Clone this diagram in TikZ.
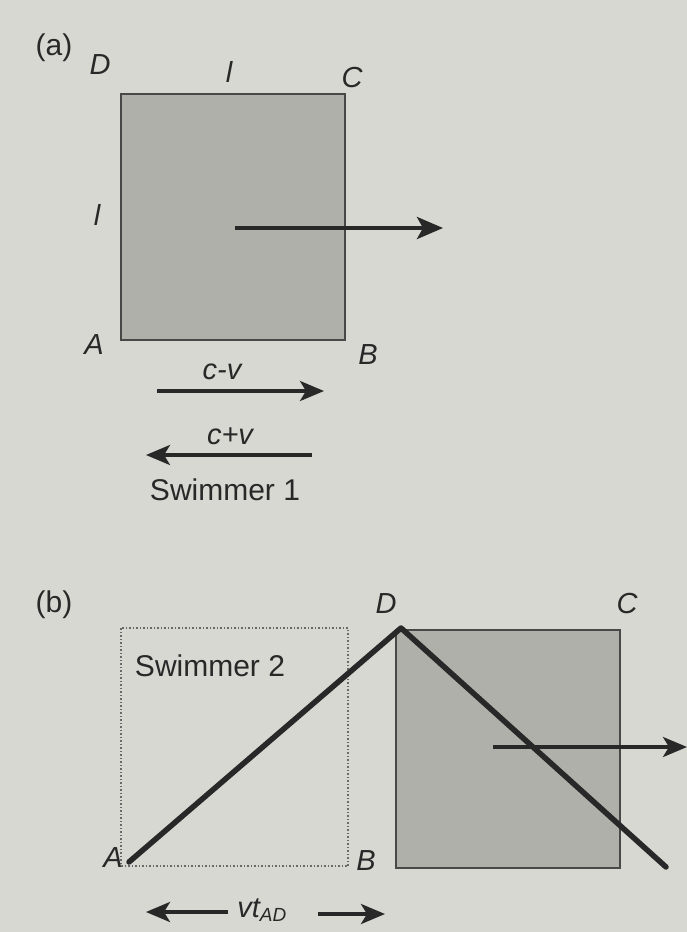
\documentclass[tikz,border=0pt]{standalone}
\usepackage{fontspec}
\setmainfont{Liberation Sans}
\usetikzlibrary{arrows.meta}
\definecolor{bg}{RGB}{216,216,210}
\definecolor{pool}{RGB}{176,176,170}
\definecolor{ink}{RGB}{40,40,40}
\tikzset{
  lbl/.style={font=\fontsize{29}{31}\selectfont\itshape, text=ink, inner sep=0pt},
  txt/.style={font=\fontsize{30}{32}\selectfont, text=ink, inner sep=0pt},
  poolbox/.style={draw=ink!85, line width=2.5pt, fill=pool},
  arr/.style={draw=ink, line width=4pt, -{Stealth[length=26pt,width=22pt,inset=6pt]}},
  thinarr/.style={draw=ink, line width=3.5pt, -{Stealth[length=24pt,width=20pt,inset=6pt]}},
  path2/.style={draw=ink, line width=5.5pt, line cap=round, line join=round}
}
\begin{document}
\begin{tikzpicture}[x=1pt,y=-1pt]
\fill[bg] (0,0) rectangle (687,932);
\useasboundingbox (0,0) rectangle (687,932);
% ---------- (a)
\node[txt] (la) at (54,48) {(a)};
\draw[poolbox] (121,94) rectangle (345,340);
\node[lbl] (A1) at (94,345) {A};
\node[lbl] (B1) at (368,355) {B};
\node[lbl] (C1) at (352,78) {C};
\node[lbl] (D1) at (100,65) {D};
\node[lbl] (l1) at (229,72) {l};
\node[lbl] (l2) at (97,215) {l};
\coordinate (s1) at (235,228);
\coordinate (e1) at (443,228);
\draw[arr] (s1) -- (e1);
\node[lbl] (cmv) at (222,372) {c-v};
\coordinate (s2) at (157,391);
\coordinate (e2) at (324,391);
\draw[thinarr] (s2) -- (e2);
\node[lbl] (cpv) at (230,436) {c+v};
\coordinate (s3) at (312,455);
\coordinate (e3) at (146,455);
\draw[thinarr] (s3) -- (e3);
\node[txt] (sw1) at (225,490) {Swimmer 1};
% ---------- (b)
\node[txt] (lb) at (54,605) {(b)};
\draw[ink!70, line width=1.5pt, dotted] (121,628) rectangle (348,866);
\node[txt] (sw2) at (210,666) {Swimmer 2};
\draw[poolbox] (396,630) rectangle (620,868);
\node[lbl] (A2) at (113,858) {A};
\node[lbl] (B2) at (366,861) {B};
\node[lbl] (D2) at (386,604) {D};
\node[lbl] (C2) at (627,604) {C};
\coordinate (pA) at (129,862);
\coordinate (pD) at (401,628);
\coordinate (pE) at (666,867);
\coordinate (s4) at (493,747);
\coordinate (e4) at (687,747);
\draw[thinarr] (s4) -- (e4);
\draw[path2] (pA) -- (pD) -- (pE);
\node[lbl] (vt) at (262,910) {vt\textsubscript{\fontsize{19}{19}\selectfont AD}};
\coordinate (s5) at (228,912);
\coordinate (e5) at (146,912);
\draw[thinarr] (s5) -- (e5);
\coordinate (s6) at (318,914);
\coordinate (e6) at (385,914);
\draw[thinarr] (s6) -- (e6);
\end{tikzpicture}
\end{document}
